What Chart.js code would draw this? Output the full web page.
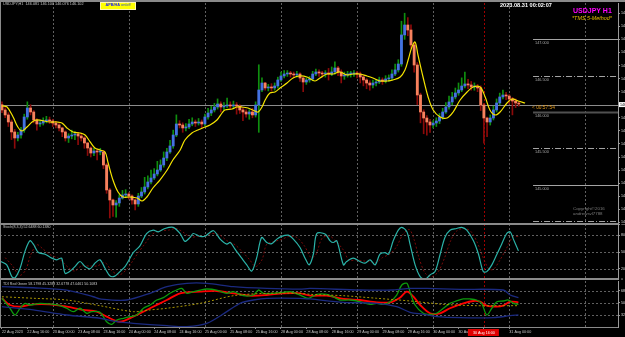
<!DOCTYPE html>
<html>
<head>
<meta charset="utf-8">
<title>USDJPY H1</title>
<script src="https://cdn.jsdelivr.net/npm/chart.js@4.4.1/dist/chart.umd.min.js"></script>
<style>
  html, body { margin: 0; padding: 0; background: #000; }
  #wrap { position: relative; width: 625px; height: 337px; overflow: hidden; background: #000; font-family: "Liberation Sans", Arial, sans-serif; }
  #wrap canvas { position: absolute; left: 0; }
  .t { position: absolute; white-space: nowrap; line-height: 1; }
  .sep { position: absolute; left: 0; width: 618px; background: #8a8a8a; }
</style>
</head>
<body>
<div id="wrap">
  <canvas id="main" width="625" height="224" style="top:0;width:625px;height:224px"></canvas>
  <canvas id="stoch" width="625" height="56" style="top:224px;width:625px;height:56px"></canvas>
  <canvas id="tdi" width="625" height="56" style="top:281px;width:625px;height:56px"></canvas>

  <div class="sep" style="top:0;height:2px;width:625px"></div>
  <div class="sep" style="top:223px;height:2px"></div>
  <div class="sep" style="top:278px;height:2px"></div>
  <div class="sep" style="top:327px;height:1px"></div>
  <div class="sep" style="top:0;width:1px;height:328px"></div>

  <div class="t" style="left:3px;top:3px;font-size:3.8px;color:#c4c4c4">USDJPY,H1&nbsp; 146.081 146.100 146.076 146.102</div>
  <div class="t" style="left:100px;top:2px;width:34px;height:6px;background:#ffff00;border:1px solid #fff6b0;font-size:3.8px;font-weight:bold;color:#1a1aff;display:flex;align-items:center;justify-content:center">APB/HA&nbsp;<span style="font-weight:normal;color:#3050c0">on/off</span></div>
  <div class="t" style="left:500px;top:3px;font-size:5.6px;font-weight:bold;color:#ffffff">2023.08.31 00:02:07</div>
  <div class="t" style="left:573px;top:7px;font-size:7px;font-weight:bold;color:#ff00ff">USDJPY H1</div>
  <div class="t" style="left:572px;top:16px;font-size:5.4px;font-style:italic;color:#e6c000">*TMS 5-Method*</div>
  <div class="t" style="left:573px;top:206px;font-size:4.4px;color:#7c7c7c;line-height:5px">Copyright©2016<br>andrewsvl7788</div>
  <div class="t" style="left:3px;top:226px;font-size:3.6px;color:#c8c8c8">Stoch(8,3,3) 52.6488 60.1380</div>
  <div class="t" style="left:3px;top:283px;font-size:3.6px;color:#c8c8c8">TDI Red Green 58.1798 45.3288 32.6778 47.0461 50.1083</div>
</div>

<script>
// ---- price data (Heiken Ashi, bar index 0 = 22 Aug 08:00) ----
const firstOpen = 146.10;
const closes = [
  146.028, 145.959, 145.862, 145.725, 145.642, 145.683, 145.752, 145.931, 146.055, 146.000,
  145.890, 145.835, 145.848, 145.876, 145.890, 145.876, 145.848, 145.821, 145.780, 145.725,
  145.642, 145.669, 145.683, 145.697, 145.669, 145.642, 145.573, 145.504, 145.435, 145.463,
  145.449, 145.449, 145.270, 144.926, 144.788, 144.719, 144.747, 144.815, 144.857, 144.870,
  144.843, 144.788, 144.733, 144.843, 144.898, 144.967, 145.036, 145.091, 145.146, 145.201,
  145.270, 145.366, 145.449, 145.532, 145.683, 145.835, 145.821, 145.780, 145.793, 145.835,
  145.862, 145.848, 145.862, 145.835, 145.931, 145.986, 146.028, 146.069, 146.110, 146.069,
  146.083, 146.096, 146.083, 146.096, 146.083, 146.028, 146.000, 145.972, 146.000, 145.959,
  146.096, 146.303, 146.399, 146.331, 146.344, 146.331, 146.358, 146.441, 146.496, 146.523,
  146.537, 146.523, 146.510, 146.523, 146.468, 146.413, 146.441, 146.455, 146.523, 146.551,
  146.537, 146.523, 146.537, 146.523, 146.551, 146.606, 146.551, 146.496, 146.510, 146.523,
  146.523, 146.537, 146.523, 146.482, 146.441, 146.399, 146.372, 146.399, 146.413, 146.441,
  146.427, 146.455, 146.468, 146.523, 146.579, 146.661, 147.061, 147.198, 147.129, 146.923,
  146.647, 146.234, 146.000, 145.917, 145.862, 145.821, 145.848, 145.876, 145.931, 146.000,
  146.069, 146.138, 146.207, 146.262, 146.303, 146.358, 146.386, 146.372, 146.344, 146.344,
  146.331, 146.096, 145.917, 145.862, 145.917, 146.028, 146.124, 146.207, 146.234, 146.220,
  146.179, 146.151, 146.124, 146.110
];
const highs = [
  146.14, 146.06, 145.99, 145.89, 145.76, 145.72, 145.79, 145.97, 146.14, 146.10,
  146.02, 145.91, 145.88, 145.92, 145.94, 145.93, 145.90, 145.87, 145.84, 145.79,
  145.74, 145.70, 145.75, 145.73, 145.72, 145.70, 145.66, 145.58, 145.52, 145.50,
  145.49, 145.50, 145.47, 145.29, 144.95, 144.80, 144.78, 144.86, 144.92, 144.93,
  144.89, 144.86, 144.80, 144.88, 144.96, 145.10, 145.12, 145.20, 145.22, 145.32,
  145.34, 145.45, 145.50, 145.61, 145.75, 145.96, 145.88, 145.85, 145.84, 145.90,
  145.92, 145.89, 145.91, 145.89, 145.97, 146.05, 146.08, 146.12, 146.18, 146.14,
  146.13, 146.19, 146.14, 146.15, 146.13, 146.10, 146.06, 146.03, 146.03, 146.05,
  146.14, 146.65, 146.47, 146.41, 146.38, 146.39, 146.40, 146.48, 146.55, 146.57,
  146.57, 146.56, 146.55, 146.56, 146.54, 146.48, 146.47, 146.49, 146.56, 146.59,
  146.58, 146.56, 146.57, 146.60, 146.62, 146.69, 146.63, 146.58, 146.55, 146.56,
  146.56, 146.57, 146.56, 146.55, 146.50, 146.46, 146.43, 146.44, 146.45, 146.48,
  146.47, 146.50, 146.51, 146.58, 146.66, 146.72, 147.25, 147.36, 147.30, 147.20,
  146.95, 146.68, 146.26, 146.03, 145.95, 145.90, 145.88, 145.92, 145.98, 146.05,
  146.13, 146.22, 146.27, 146.33, 146.40, 146.47, 146.55, 146.45, 146.42, 146.40,
  146.38, 146.36, 146.12, 145.93, 145.96, 146.08, 146.18, 146.26, 146.30, 146.27,
  146.24, 146.20, 146.18, 146.14
];
const lows = [
  145.99, 145.92, 145.80, 145.62, 145.50, 145.60, 145.64, 145.72, 145.90, 145.96,
  145.85, 145.75, 145.80, 145.82, 145.85, 145.84, 145.80, 145.78, 145.74, 145.66,
  145.60, 145.58, 145.63, 145.62, 145.55, 145.60, 145.50, 145.40, 145.38, 145.40,
  145.34, 145.41, 145.22, 144.88, 144.54, 144.56, 144.55, 144.70, 144.80, 144.83,
  144.80, 144.73, 144.65, 144.70, 144.82, 144.87, 144.94, 145.01, 145.07, 145.12,
  145.18, 145.24, 145.33, 145.43, 145.50, 145.66, 145.78, 145.72, 145.74, 145.77,
  145.81, 145.80, 145.82, 145.78, 145.81, 145.90, 145.95, 146.00, 146.04, 146.00,
  146.03, 146.06, 146.04, 146.05, 145.97, 145.98, 145.88, 145.93, 145.90, 145.92,
  145.93, 145.72, 146.28, 146.30, 146.29, 146.29, 146.30, 146.33, 146.42, 146.47,
  146.49, 146.48, 146.47, 146.48, 146.42, 146.28, 146.38, 146.41, 146.43, 146.50,
  146.49, 146.48, 146.48, 146.44, 146.50, 146.52, 146.50, 146.40, 146.45, 146.48,
  146.48, 146.49, 146.47, 146.40, 146.36, 146.32, 146.30, 146.33, 146.36, 146.39,
  146.38, 146.40, 146.42, 146.44, 146.50, 146.55, 146.63, 147.00, 147.05, 146.88,
  146.55, 146.10, 145.85, 145.70, 145.68, 145.72, 145.78, 145.80, 145.84, 145.90,
  145.98, 146.04, 146.10, 146.18, 146.23, 146.28, 146.33, 146.32, 146.30, 146.30,
  146.28, 146.02, 145.57, 145.66, 145.82, 145.89, 146.00, 146.10, 146.18, 146.17,
  146.11, 145.96, 146.06, 146.08
];

// yellow moving average
const maBars = [0, 1.6, 3.5, 5.0, 6.3, 7.9, 9.5, 11.0, 15.1, 17.4, 18.9, 20.5, 22.4, 24.6, 26.2, 27.8, 29.3, 30.9,
  32.5, 33.4, 35.0, 36.6, 38.2, 40.4, 42.6, 44.2, 45.7, 47.6, 49.8, 52.1, 53.9, 56.2, 57.7, 59.9, 61.8, 64.0, 65.6, 67.8,
  69.4, 70.3, 72.6, 74.1, 75.7, 77.6, 79.8, 80.8, 82.0, 83.0, 84.5, 86.1, 87.7, 89.9, 91.8, 94.0, 96.2, 98.7, 100.3, 102.5,
  104.4, 106.6, 108.8, 110.7, 112.9, 115.1, 117.0, 119.2, 121.5, 123.3, 125.6, 127.1, 128.1, 129.3, 130.3, 131.2, 132.8,
  134.4, 136.0, 138.2, 140.4, 142.3, 144.5, 146.7, 148.6, 150.8, 152.4, 153.9, 155.5, 157.1, 159.3, 160.9, 162.8, 165.0];
const maVals = [146.083, 146.069, 145.931, 145.793, 145.738, 145.793, 145.862, 145.890, 145.862, 145.862, 145.848, 145.780,
  145.725, 145.711, 145.683, 145.587, 145.504, 145.477, 145.449, 145.311, 145.063, 144.898, 144.829, 144.829, 144.815,
  144.774, 144.829, 144.953, 145.063, 145.201, 145.339, 145.477, 145.614, 145.711, 145.752, 145.793, 145.821, 145.890,
  145.986, 146.028, 146.041, 146.069, 146.069, 146.055, 146.014, 146.000, 146.069, 146.165, 146.262, 146.275, 146.331,
  146.399, 146.468, 146.496, 146.482, 146.427, 146.468, 146.523, 146.523, 146.551, 146.510, 146.523, 146.523, 146.496,
  146.468, 146.427, 146.427, 146.441, 146.482, 146.579, 146.716, 146.895, 146.964, 146.785, 146.482, 146.207, 146.028,
  145.931, 145.917, 146.000, 146.165, 146.275, 146.344, 146.344, 146.207, 146.028, 145.959, 146.000, 146.124, 146.179,
  146.151, 146.124];

// stochastic (8,3,3)
const stochBars = [-0.3, 1.5, 3.1, 4.1, 5.7, 7.3, 8.8, 9.9, 11.5, 13.6, 15.7, 17.3, 18.8, 19.9, 21.5, 23.0, 24.6, 26.2,
  27.8, 29.3, 30.9, 32.5, 34.1, 35.6, 37.2, 38.8, 39.8, 41.4, 43.5, 45.6, 47.7, 49.3, 51.4, 54.0, 56.2, 57.7, 59.3, 60.3,
  62.5, 64.0, 66.7, 68.8, 70.9, 72.0, 73.5, 75.6, 77.2, 78.8, 80.3, 81.9, 83.5, 85.1, 86.7, 88.2, 90.3, 91.9, 94.0, 95.6,
  96.9, 98.2, 99.3, 101.9, 103.5, 104.5, 105.6, 107.7, 108.7, 110.8, 112.9, 114.5, 116.1, 117.7, 119.2, 120.8, 121.9,
  123.4, 125.0, 126.1, 127.7, 128.7, 130.3, 131.9, 133.4, 135.0, 136.6, 138.2, 139.7, 141.3, 143.4, 145.0, 146.6, 148.7,
  150.3, 151.8, 152.9, 154.5, 156.1, 157.6, 159.2, 160.3, 161.3, 162.9];
const stochK = [33, 27, 6, 4, 21, 52, 70, 64, 49, 46, 39, 36, 39, 12, 16, 24, 33, 24, 20, 30, 36, 21, 7, 7, 15, 24, 33, 49,
  61, 83, 89, 86, 92, 94, 83, 69, 76, 83, 78, 78, 88, 73, 64, 67, 55, 39, 27, 16, 39, 76, 67, 65, 73, 78, 80, 73, 58, 39,
  27, 46, 83, 82, 70, 67, 70, 27, 33, 39, 33, 30, 36, 27, 46, 49, 46, 70, 89, 94, 86, 64, 27, 6, 1, 9, 15, 46, 76, 89, 92,
  94, 89, 70, 46, 15, 15, 27, 46, 64, 83, 86, 73, 52];
const sigBars = [1, 3.5, 5.5, 7.5, 9, 11, 13, 15, 18, 21, 23, 25, 27.5, 30, 32.5, 34.5, 37, 39.5, 41, 43, 45, 47.5, 50,
  52.5, 55, 57.5, 59.5, 61.5, 64, 66, 68.5, 71, 73.5, 75.5, 78, 80, 82, 83.5, 86, 88.5, 90.5, 93, 95.5, 97.5, 99, 101,
  103.5, 105.5, 107.5, 109.5, 111.5, 114, 116, 118, 120, 122.5, 124.5, 126.5, 128.5, 130, 131.5, 133.5, 135.5, 137.5,
  139.5, 141.5, 143.5, 146, 148, 150, 151.5, 153.5, 155, 157, 159, 161, 163];
const sigD = [40, 24, 8, 18, 44, 63, 55, 46, 38, 22, 16, 25, 25, 25, 31, 17, 9, 20, 32, 49, 64, 82, 88, 89, 92, 84, 76, 78,
  78, 83, 81, 70, 63, 52, 37, 24, 36, 64, 69, 73, 78, 76, 60, 40, 45, 75, 78, 68, 55, 35, 36, 34, 33, 31, 40, 47, 60, 82,
  90, 72, 40, 12, 6, 14, 38, 70, 88, 92, 86, 66, 44, 20, 19, 35, 55, 76, 78];

// TDI
const upBars = [0, 9.9, 20.4, 28.8, 30.9, 39.3, 46.7, 52.0, 58.3, 64.6, 73.0, 83.5, 94.0, 97.2, 112.9, 123.4, 128.7, 134.0, 144.5, 158.1, 160.3, 162.9];
const upVals = [73.5, 72, 68.7, 59, 55.8, 54.3, 64, 73.5, 78.4, 78.4, 73.5, 71, 70, 71, 68.7, 68.7, 71, 71, 69.7, 68.7, 61.5, 57.7];
const loBars = [0, 9.9, 20.4, 30.9, 36.2, 41.4, 52, 58.3, 64.6, 70.9, 75.1, 79.3, 83.5, 94, 97.2, 107.7, 118.2, 124.5, 128.7, 132.9, 137.1, 144.5, 155, 160.3, 162.9];
const loVals = [44.7, 40, 32.7, 28, 23, 20.7, 17.3, 16, 20.7, 37.5, 49.5, 54.3, 56.8, 56.8, 55.8, 51, 49.5, 44.7, 36.6, 33.7, 30.3, 28.8, 28.8, 31.7, 32.7];
const midBars = [0, 9.9, 20.4, 30.9, 41.4, 46.7, 52, 62.5, 73, 83.5, 94, 97.2, 107.7, 118.2, 128.7, 139.2, 149.7, 155, 162.9];
const midVals = [59, 56.8, 54.3, 46.1, 37.5, 40, 42.4, 49.5, 60.5, 64, 64, 62.5, 60.5, 56.8, 52.9, 48.1, 46.1, 46.1, 46.1];
const rsiBars = [0, 2.5, 4.1, 5.7, 7.3, 8.8, 12.0, 15.1, 17.8, 20.4, 22.5, 24.6, 26.7, 28.3, 30.9, 33.0, 34.6, 36.2, 38.3,
  40.4, 42.5, 44.6, 46.7, 48.8, 50.9, 53.0, 55.1, 56.7, 58.3, 60.3, 62.5, 64.6, 67.7, 70.9, 73.0, 76.1, 79.3, 80.9, 82.4,
  85.6, 88.7, 90.9, 94.0, 96.6, 99.3, 102.4, 104.5, 106.6, 109.8, 112.9, 116.1, 118.2, 120.3, 122.4, 124.5, 126.1, 127.7,
  128.7, 130.3, 132.9, 135.0, 137.1, 139.2, 141.3, 143.4, 145.5, 147.6, 149.7, 151.3, 152.9, 154.5, 156.1, 158.1, 159.7,
  161.3, 162.9];
const rsiVals = [56.8, 42.4, 32.7, 42.4, 49.5, 47.1, 49.5, 48.6, 47.1, 42.4, 37.5, 42.4, 35.2, 37.5, 36.6, 23, 19.3, 25.5,
  28, 30.3, 32.7, 42.4, 47.1, 54.3, 57.7, 64, 68.7, 71, 64, 66.3, 68.7, 70.2, 68.7, 64, 66.3, 60.5, 61.5, 68.7, 64, 64,
  65.4, 66.3, 61.5, 56.8, 62.5, 62.5, 59, 54.3, 54.3, 51.9, 48.1, 49.5, 48.1, 51.9, 61.5, 75.9, 78.4, 66.3, 47.1, 35.2,
  33.7, 35.2, 42.4, 49.5, 52.9, 55.8, 55.8, 54.3, 49.5, 32.7, 42.4, 51.9, 52.9, 54.3, 49.5, 48.1];
const tsigBars = [0, 2.5, 5.7, 9.9, 15.1, 20.4, 25.7, 29.9, 33, 37.2, 41.4, 46.7, 52, 56.2, 62.5, 67.7, 73, 78.2, 83.5,
  88.7, 94, 97.2, 102.4, 107.7, 112.9, 118.2, 122.4, 125.5, 127.7, 129.8, 131.9, 135, 138.2, 141.3, 145.5, 148.7, 150.8,
  152.9, 156.1, 158.1, 160.3, 162.9];
const tsigVals = [56.8, 47.1, 44.7, 48.1, 48.1, 44.7, 40, 37.5, 30.3, 23, 30.3, 42.4, 54.3, 64, 66.3, 67.3, 64, 60.5, 61.5,
  64, 64, 60.5, 60.5, 55.8, 54.3, 51, 51, 57.7, 66.3, 59, 47.1, 35.2, 35.2, 42.4, 49.5, 52.9, 51.9, 46.1, 44.7, 46.1, 51.9, 51];

// axes / ticks
const labelBars = [0, 8, 16, 24, 32, 40, 48, 56, 64, 72, 80, 88, 96, 104, 112, 120, 128, 136, 144, 152, 160];
const timeLabels = ["22 Aug 2023", "22 Aug 16:00", "23 Aug 00:00", "23 Aug 08:00", "23 Aug 16:00", "24 Aug 00:00",
  "24 Aug 08:00", "24 Aug 16:00", "25 Aug 00:00", "25 Aug 08:00", "25 Aug 16:00", "28 Aug 00:00", "28 Aug 08:00",
  "28 Aug 16:00", "29 Aug 00:00", "29 Aug 08:00", "29 Aug 16:00", "30 Aug 00:00", "30 Aug 08:00", "30 Aug 16:00",
  "31 Aug 00:00"];
const dayBars = [16, 40, 64, 88, 112, 136, 160, 184];
const cursorBar = 152;
const priceTicks = [147.36, 147.18, 147.00, 146.82, 146.64, 146.46, 146.28, 145.92, 145.74, 145.56, 145.38, 145.20, 145.02, 144.84, 144.66, 144.48];
const roundLevels = [147.0, 146.5, 146.0, 145.5, 145.0, 144.5];
const bidPrice = 146.102;
const timerText = "< 00:57:54";
const stochLevels = [80, 50, 20];
const stochTicks = [100, 80, 50, 20, 0];
const tdiLevels = [68, 50, 32];
const tdiTicks = [68, 50, 32];

const xMin = -0.63, xMax = 194.3;
const FONT = '"Liberation Sans", Arial, sans-serif';
Chart.defaults.font.family = FONT;

const pts = (xs, ys) => xs.map((x, i) => ({ x, y: ys[i] }));
const openOf = (i) => (i === 0 ? firstOpen : closes[i - 1]);
const isBull = (i) => closes[i] >= openOf(i);

function hiddenX() {
  return { type: 'linear', min: xMin, max: xMax, offset: false, display: false };
}
function rightY(min, max, ticks, fmt) {
  return {
    type: 'linear', position: 'right', min, max,
    afterBuildTicks: (s) => { s.ticks = ticks.map((v) => ({ value: v })); },
    afterFit: (s) => { s.width = 7; s.paddingTop = 0; s.paddingBottom = 0; },
    ticks: { color: '#dcdcdc', font: { size: 3.6 }, padding: 1, callback: fmt },
    grid: { drawOnChartArea: false, drawTicks: true, tickLength: 2, color: '#9a9a9a' },
    border: { display: true, color: '#9a9a9a', width: 1 }
  };
}

function deco(levels, extraBefore, extraAfter) {
  return {
    id: 'deco',
    beforeDatasetsDraw(chart) {
      const { ctx, chartArea: a, scales: { x, y } } = chart;
      ctx.save();
      ctx.lineWidth = 1;
      ctx.setLineDash([2, 2]);
      ctx.strokeStyle = '#606060';
      dayBars.forEach((b) => {
        const px = Math.round(x.getPixelForValue(b)) + 0.5;
        ctx.beginPath(); ctx.moveTo(px, a.top); ctx.lineTo(px, a.bottom); ctx.stroke();
      });
      levels.forEach((v) => {
        const py = Math.round(y.getPixelForValue(v)) + 0.5;
        ctx.beginPath(); ctx.moveTo(a.left, py); ctx.lineTo(a.right, py); ctx.stroke();
      });
      ctx.strokeStyle = '#a00000';
      const cx = Math.round(x.getPixelForValue(cursorBar)) + 0.5;
      ctx.beginPath(); ctx.moveTo(cx, a.top); ctx.lineTo(cx, a.bottom); ctx.stroke();
      ctx.restore();
      if (extraBefore) extraBefore(chart);
    },
    afterDraw(chart) { if (extraAfter) extraAfter(chart); }
  };
}

const common = {
  responsive: false, animation: false, devicePixelRatio: 1,
  plugins: { legend: { display: false }, tooltip: { enabled: false } }
};

// ---- main price chart ----
new Chart(document.getElementById('main'), {
  type: 'bar',
  data: {
    datasets: [
      { type: 'line', data: pts(maBars, maVals), borderColor: '#f5e400', borderWidth: 1.2, pointRadius: 0, tension: 0.35, order: 1 },
      { data: closes.map((c, i) => ({ x: i, y: [openOf(i), c] })),
        backgroundColor: (c) => (isBull(c.dataIndex) ? '#4472e2' : '#f7815d'),
        barThickness: 2.2, minBarLength: 1, grouped: false, order: 2 },
      { data: closes.map((c, i) => ({ x: i, y: [lows[i], highs[i]] })),
        backgroundColor: (c) => (isBull(c.dataIndex) ? '#0f8f0f' : '#8c0a0a'),
        barThickness: 1, grouped: false, order: 3 }
    ]
  },
  options: {
    ...common,
    layout: { padding: { top: 3, bottom: 1 } },
    scales: {
      x: hiddenX(),
      y: rightY(144.471, 147.501, priceTicks, (v) => Number(v).toFixed(3))
    }
  },
  plugins: [deco([],
    (chart) => {
      const { ctx, chartArea: a, scales: { y } } = chart;
      const py = Math.round(y.getPixelForValue(bidPrice)) + 0.5;
      ctx.save();
      ctx.strokeStyle = '#8c8c8c'; ctx.lineWidth = 1;
      ctx.beginPath(); ctx.moveTo(a.left, py); ctx.lineTo(a.right, py); ctx.stroke();
      ctx.restore();
    },
    (chart) => {
      const { ctx, chartArea: a, scales: { x, y } } = chart;
      const x0 = x.getPixelForValue(167.5);
      ctx.save();
      roundLevels.forEach((v) => {
        const whole = Math.abs(v - Math.round(v)) < 1e-6;
        const py = Math.round(y.getPixelForValue(v)) + 0.5;
        if (v === 146) { ctx.strokeStyle = '#505050'; ctx.lineWidth = 2; }
        else { ctx.strokeStyle = '#a4a4a4'; ctx.lineWidth = 1; }
        ctx.setLineDash(whole ? [] : [6, 2, 1, 2]);
        ctx.beginPath(); ctx.moveTo(x0, py); ctx.lineTo(a.right, py); ctx.stroke();
        ctx.fillStyle = '#a8a8a8';
        ctx.font = '3.8px ' + FONT;
        ctx.textBaseline = 'top';
        ctx.fillText(v.toFixed(3), x0 + 2, py + 1.5);
      });
      ctx.setLineDash([]);
      const by = y.getPixelForValue(bidPrice);
      ctx.fillStyle = '#e39a1c';
      ctx.font = '4.8px ' + FONT;
      ctx.textBaseline = 'top';
      ctx.fillText(timerText, x0 - 1, by + 1);
      ctx.fillStyle = '#ffffff';
      ctx.fillRect(a.right + 1, by - 2.5, 10, 5);
      ctx.fillStyle = '#000000';
      ctx.font = '3.6px ' + FONT;
      ctx.textBaseline = 'middle';
      ctx.fillText(bidPrice.toFixed(3), a.right + 2, by);
      ctx.restore();
    })]
});

// ---- stochastic ----
new Chart(document.getElementById('stoch'), {
  type: 'line',
  data: {
    datasets: [
      { data: pts(stochBars, stochK), borderColor: '#2bb3a8', borderWidth: 1.2, pointRadius: 0, tension: 0.3, order: 1 },
      { data: pts(sigBars, sigD), borderColor: '#7a0a0a', borderWidth: 1, borderDash: [2, 2], pointRadius: 0, tension: 0.3, order: 2 }
    ]
  },
  options: {
    ...common,
    scales: { x: hiddenX(), y: rightY(0, 100, stochTicks, (v) => String(v)) }
  },
  plugins: [deco(stochLevels)]
});

// ---- TDI ----
new Chart(document.getElementById('tdi'), {
  type: 'line',
  data: {
    datasets: [
      { data: pts(upBars, upVals), borderColor: '#1b2a80', borderWidth: 1.3, pointRadius: 0, tension: 0.3 },
      { data: pts(loBars, loVals), borderColor: '#1b2a80', borderWidth: 1.3, pointRadius: 0, tension: 0.3 },
      { data: pts(midBars, midVals), borderColor: '#a89400', borderWidth: 1, borderDash: [2, 2], pointRadius: 0, tension: 0.3 },
      { data: pts(rsiBars, rsiVals), borderColor: '#0c9a0c', borderWidth: 1.3, pointRadius: 0, tension: 0.3 },
      { data: pts(tsigBars, tsigVals), borderColor: '#ff0000', borderWidth: 1.8, pointRadius: 0, tension: 0.3 }
    ]
  },
  options: {
    ...common,
    scales: {
      x: {
        type: 'linear', min: xMin, max: xMax, offset: false, position: 'bottom',
        afterBuildTicks: (s) => { s.ticks = labelBars.map((v) => ({ value: v })); },
        afterFit: (s) => { s.height = 10; s.paddingLeft = 0; s.paddingRight = 0; },
        ticks: {
          autoSkip: false, maxRotation: 0, minRotation: 0, align: 'start', padding: 1,
          color: '#c8c8c8', font: { size: 3.7 },
          callback: (v, idx) => (labelBars[idx] === cursorBar ? '' : timeLabels[idx])
        },
        grid: { drawOnChartArea: false, drawTicks: true, tickLength: 2, color: '#8c8c8c' },
        border: { display: false }
      },
      y: rightY(15.4, 81.7, tdiTicks, (v) => String(v))
    }
  },
  plugins: [deco(tdiLevels, null, (chart) => {
    const { ctx, chartArea: a, scales: { x } } = chart;
    const cx = x.getPixelForValue(cursorBar);
    ctx.save();
    ctx.fillStyle = '#e00000';
    ctx.fillRect(cx - 16, a.bottom + 2, 31, 7);
    ctx.fillStyle = '#ffffff';
    ctx.font = '3.7px ' + FONT;
    ctx.textBaseline = 'middle';
    ctx.textAlign = 'center';
    ctx.fillText(timeLabels[labelBars.indexOf(cursorBar)], cx, a.bottom + 5.5);
    ctx.restore();
  })]
});
</script>
</body>
</html>
